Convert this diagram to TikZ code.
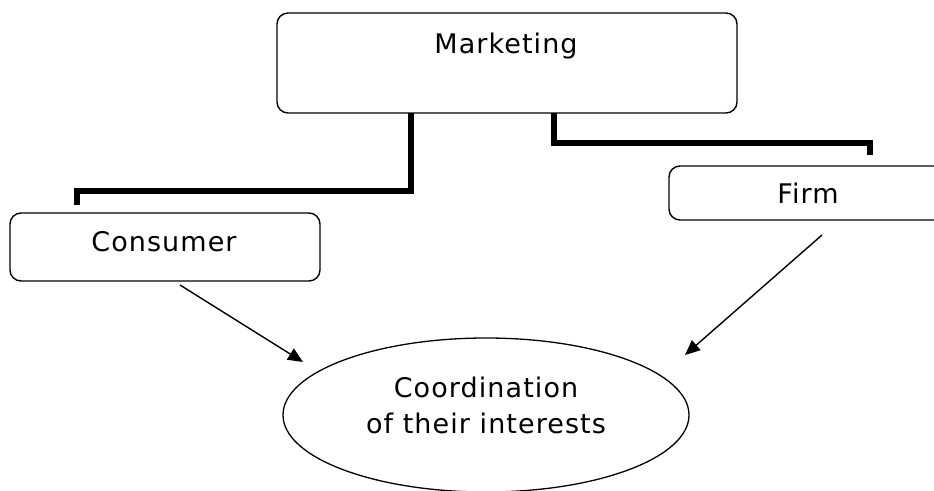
\documentclass[tikz,border=0pt]{standalone}
\usepackage{fontspec}
\setmainfont{DejaVu Sans}[LetterSpace=4]
\usetikzlibrary{arrows.meta,shapes.geometric}

\tikzset{
  roundbox/.style={draw, line width=1.4pt, rounded corners=11pt},
  label text/.style={font=\fontsize{27}{36}\selectfont, inner sep=0pt, anchor=base},
  elbow/.style={line width=6pt, line cap=butt, line join=miter},
  pointer/.style={line width=1.4pt, -{Triangle[length=15pt,width=13pt]}},
}

\begin{document}
\begin{tikzpicture}[x=1pt, y=-1pt]
  \useasboundingbox (0,0) rectangle (934,490);
  \clip (0,0) rectangle (934,490);

  % boxes
  \draw[roundbox] (277,13) rectangle (737,113);
  \draw[roundbox] (10,213) rectangle (320,281);
  \draw[roundbox] (669,166) rectangle (950,220);

  \node (marketing) [minimum width=460pt, minimum height=100pt] at (507,63) {};
  \node (consumer)  [minimum width=310pt, minimum height=68pt] at (165,247) {};
  \node (firm)      [minimum width=281pt, minimum height=54pt] at (809.5,193) {};

  \node[label text] at (506,53) {Marketing};
  \node[label text] at (164,251) {Consumer};
  \node[label text] at (808,203) {Firm};

  % central ellipse
  \node (coord) [draw, ellipse, line width=1.3pt,
    minimum width=406pt, minimum height=154pt] at (486,415) {};
  \node[label text] at (486,397) {Coordination};
  \node[label text] at (486,433) {of their interests};

  % elbow connectors from the top box
  \coordinate (lTop) at (411,113);
  \coordinate (lEnd) at (77,205);
  \coordinate (rTop) at (554,113);
  \coordinate (rEnd) at (870,155);
  \draw[elbow] (lTop) -- (411,191) -- (77,191) -- (lEnd);
  \draw[elbow] (rTop) -- (554,143) -- (870,143) -- (rEnd);

  % arrows into the ellipse
  \coordinate (cStart) at (180,285);
  \coordinate (cTip)   at (303,362);
  \coordinate (fStart) at (822,235);
  \coordinate (fTip)   at (685,355);
  \draw[pointer] (cStart) -- (cTip);
  \draw[pointer] (fStart) -- (fTip);
\end{tikzpicture}
\end{document}
